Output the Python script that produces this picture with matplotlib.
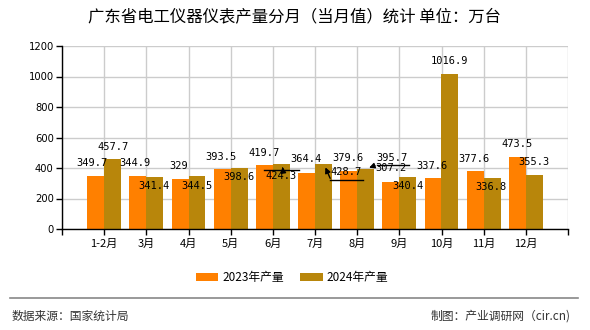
import matplotlib
matplotlib.use("Agg")
import matplotlib.pyplot as plt
import matplotlib.transforms as mtransforms
import numpy as np

plt.rcParams['font.family'] = ['Noto Sans CJK SC', 'DejaVu Sans']

title = "广东省电工仪器仪表产量分月（当月值）统计 单位：万台"
months = ["1-2月", "3月", "4月", "5月", "6月", "7月", "8月", "9月", "10月", "11月", "12月"]
vals_2023 = [349.7, 344.9, 329, 393.5, 419.7, 364.4, 379.6, 307.2, 337.6, 377.6, 473.5]
vals_2024 = [457.7, 341.4, 344.5, 398.6, 424.3, 428.7, 395.7, 340.4, 1016.9, 336.8, 355.3]
series_names = ["2023年产量", "2024年产量"]
yticks = [0, 200, 400, 600, 800, 1000, 1200]
source_text = "数据来源：国家统计局"
credit_text = "制图：产业调研网（cir.cn)"

c23 = "#FF8000"
c24 = "#B8860B"

# label offsets in pixels (dx, dy) relative to bar top centre
off23 = [(-4, 13), (-3, 13), (-1, 13), (-1, 12), (0, 12), (-1, 14), (-1, 13), (0, 14), (-1, 12), (-1, 12), (0, 13)]
off24 = [(0, 12), (-1, -9), (0, -10), (0, -9), (0, -12), (23, -8), (26, 11), (0, -9), (0, 13), (-1, -9), (0, 13)]

fig = plt.figure(figsize=(5.9, 3.3), dpi=100)
ax = fig.add_axes([62/590, 1-229/330, (568-62)/590, (229-46)/330])

x = np.arange(len(months))
w = 0.4
ax.bar(x - w/2, vals_2023, width=w, color=c23, label=series_names[0], zorder=2)
ax.bar(x + w/2, vals_2024, width=w, color=c24, label=series_names[1], zorder=2)

ax.set_xlim(-1, len(months))
ax.set_ylim(0, 1200)
ax.set_xticks(np.arange(-1, len(months) + 1))
ax.set_xticklabels([""] + months + [""], fontsize=8)
ax.set_yticks(yticks)
ax.set_yticklabels([str(t) for t in yticks], fontsize=7.2, family='DejaVu Sans')
ax.tick_params(axis='both', direction='out', length=4, width=1, color='black', pad=2)
ax.tick_params(axis='x', pad=3)
ax.grid(True, color='#cccccc', lw=1)
ax.set_axisbelow(True)
for s in ['top', 'right']:
    ax.spines[s].set_visible(False)
for s in ['left', 'bottom']:
    ax.spines[s].set_color('black')
    ax.spines[s].set_linewidth(1)

lab_kw = dict(ha='center', va='center', fontsize=7.5, family='DejaVu Sans Mono',
              textcoords='offset pixels', zorder=5)
for i in range(len(months)):
    ax.annotate(f"{vals_2023[i]:g}", xy=(x[i] - w/2, vals_2023[i]), xytext=off23[i], **lab_kw)
    ax.annotate(f"{vals_2024[i]:g}", xy=(x[i] + w/2, vals_2024[i]), xytext=off24[i], **lab_kw)

def pline(xd, yd, pts):
    xs = []; ys = []
    for dx, dy in pts:
        t = mtransforms.offset_copy(ax.transData, fig=fig, x=dx, y=dy, units='dots')
        px, py = t.transform((xd, yd))
        xs.append(px); ys.append(py)
    ax.plot(xs, ys, color='black', lw=1, transform=None, zorder=6)

arrow_kw = dict(arrowstyle='-|>', color='black', lw=1, mutation_scale=8)
# 6月 leader
i = 4
pline(x[i] + w/2, vals_2024[i], [(-17, -6), (18, -6)])
ax.annotate("", xy=(x[i] + w/2 + 0.02, vals_2024[i]), xycoords='data',
            xytext=(1, -7), textcoords='offset pixels', arrowprops=arrow_kw)
# 7月 leader
i = 5
pline(x[i] + w/2, vals_2024[i], [(40, -16), (7, -16)])
ax.annotate("", xy=(x[i] + w/2 + 0.02, vals_2024[i] - 8), xycoords='data',
            xytext=(7, -16), textcoords='offset pixels', arrowprops=arrow_kw)
# 8月 leader
i = 6
pline(x[i] + w/2, vals_2024[i], [(43, 4), (11, 4)])
ax.annotate("", xy=(x[i] + w/2 + 0.02, vals_2024[i]), xycoords='data',
            xytext=(11, 4), textcoords='offset pixels', arrowprops=arrow_kw)

fig.text(295/590, 1-17/330, title, ha='center', va='center', fontsize=11.8, color='black')

fig.legend(loc='center', bbox_to_anchor=(292/590, 1-277.5/330), ncol=2, frameon=False,
           fontsize=8.5, handlelength=1.9, handleheight=0.75, handletextpad=0.35,
           columnspacing=1.4, borderaxespad=0)

fig.add_artist(plt.Line2D([10/590, 578/590], [1-298/330, 1-298/330], color='#888888', lw=1.2,
                          transform=fig.transFigure))
fig.text(12/590, 1-316/330, source_text, ha='left', va='center', fontsize=8.5, color='#333333')
fig.text(571/590, 1-316/330, credit_text, ha='right', va='center', fontsize=8.5, color='#333333')

fig.savefig("out.png", dpi=100)
